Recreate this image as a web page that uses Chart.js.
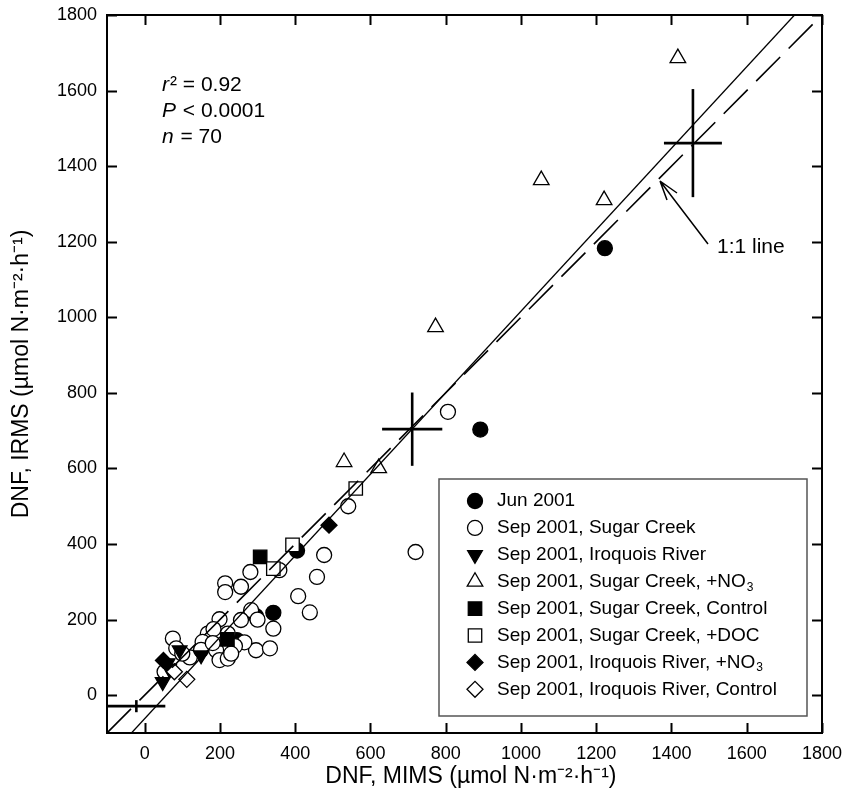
<!DOCTYPE html>
<html>
<head>
<meta charset="utf-8">
<script src="https://cdn.jsdelivr.net/npm/chart.js@4.4.0/dist/chart.umd.min.js"></script>
<style>
  html, body { margin: 0; padding: 0; background: #fff; }
  #wrap { width: 845px; height: 802px; }
</style>
</head>
<body>
<div id="wrap"><canvas id="dnfChart" width="845" height="802"></canvas></div>
<script>
// DNF measured by MIMS (x) and IRMS (y), µmol N m-2 h-1
var seriesLabels = [
  'Jun 2001',
  'Sep 2001, Sugar Creek',
  'Sep 2001, Iroquois River',
  'Sep 2001, Sugar Creek, +NO3',
  'Sep 2001, Sugar Creek, Control',
  'Sep 2001, Sugar Creek, +DOC',
  'Sep 2001, Iroquois River, +NO3',
  'Sep 2001, Iroquois River, Control'
];

var jun2001X = [1223, 892, 405, 342, 296, 245];
var jun2001Y = [1183, 703, 383, 218, 209, 146];

var sugarX = [806, 720, 541, 477, 458, 439, 408, 358, 281, 256, 214, 214, 283, 342, 296, 333, 199, 256, 221, 168,
              154, 190, 199, 221, 75, 84, 53, 183, 120, 100, 265, 240, 150, 300, 230, 181];
var sugarY = [750, 379, 500, 371, 313, 219, 262, 331, 326, 287, 296, 273, 225, 176, 119, 124, 201, 199, 163, 163,
              141, 119, 93, 97, 150, 124, 62, 175, 100, 110, 140, 130, 120, 200, 110, 138];

var iroquoisX = [48, 61, 93, 150, 65];
var iroquoisY = [35, 85, 119, 106, 70];

var sugarNo3X = [530, 622, 773, 1054, 1221, 1417];
var sugarNo3Y = [617, 601, 974, 1363, 1310, 1686];

var sugarControlX = [307, 220];
var sugarControlY = [366, 148];

var sugarDocX = [561, 342, 393];
var sugarDocY = [547, 335, 398];

var iroquoisNo3X = [490, 50];
var iroquoisNo3Y = [450, 92];

var iroquoisControlX = [79, 112];
var iroquoisControlY = [62, 42];

// fitted regression and 1:1 reference line
var regLineX = [-35, 1727];
var regLineY = [-100, 1800];
var oneToOneX = [-100, 1800];
var oneToOneY = [-100, 1800];

// crosshairs: centre and half-widths
var crossX = [-22, 711, 1457];
var crossY = [-29, 704, 1461];
var crossErrX = [77, 80, 77];
var crossErrY = [16, 97, 143];

var xTickValues = [0, 200, 400, 600, 800, 1000, 1200, 1400, 1600, 1800];
var yTickValues = [0, 200, 400, 600, 800, 1000, 1200, 1400, 1600, 1800];

var FONT = "'Liberation Sans', Arial, Helvetica, sans-serif";

function toPoints(xs, ys) {
  return xs.map(function(x, i) { return { x: x, y: ys[i] }; });
}

var markerStyles = [
  { pointStyle: 'circle', radius: 7.5, rotation: 0, fill: '#000' },
  { pointStyle: 'circle', radius: 7.5, rotation: 0, fill: '#fff' },
  { pointStyle: 'triangle', radius: 8.5, rotation: 180, fill: '#000' },
  { pointStyle: 'triangle', radius: 9, rotation: 0, fill: '#fff' },
  { pointStyle: 'rect', radius: 9.5, rotation: 0, fill: '#000' },
  { pointStyle: 'rect', radius: 9.5, rotation: 0, fill: '#fff' },
  { pointStyle: 'rectRot', radius: 8, rotation: 0, fill: '#000' },
  { pointStyle: 'rectRot', radius: 8, rotation: 0, fill: '#fff' }
];

var seriesData = [
  toPoints(jun2001X, jun2001Y),
  toPoints(sugarX, sugarY),
  toPoints(iroquoisX, iroquoisY),
  toPoints(sugarNo3X, sugarNo3Y),
  toPoints(sugarControlX, sugarControlY),
  toPoints(sugarDocX, sugarDocY),
  toPoints(iroquoisNo3X, iroquoisNo3Y),
  toPoints(iroquoisControlX, iroquoisControlY)
];

var datasets = [];

// lines first so they sit on top of the markers
datasets.push({
  label: 'regression', data: toPoints(regLineX, regLineY), showLine: true,
  borderColor: '#000', borderWidth: 1.3, pointRadius: 0, fill: false
});
datasets.push({
  label: '1:1', data: toPoints(oneToOneX, oneToOneY), showLine: true,
  borderColor: '#000', borderWidth: 1.6, borderDash: [34, 12], pointRadius: 0, fill: false
});
crossX.forEach(function(cx, i) {
  var cy = crossY[i];
  datasets.push({
    label: 'crossH' + i,
    data: [{ x: cx - crossErrX[i], y: cy }, { x: cx + crossErrX[i], y: cy }],
    showLine: true, borderColor: '#000', borderWidth: 2.6, pointRadius: 0, fill: false
  });
  datasets.push({
    label: 'crossV' + i,
    data: [{ x: cx, y: cy - crossErrY[i] }, { x: cx, y: cy + crossErrY[i] }],
    showLine: true, borderColor: '#000', borderWidth: 2.6, pointRadius: 0, fill: false
  });
});

for (var s = seriesData.length - 1; s >= 0; s--) {
  var m = markerStyles[s];
  datasets.push({
    label: seriesLabels[s],
    data: seriesData[s],
    pointStyle: m.pointStyle,
    pointRadius: m.radius,
    pointRotation: m.rotation,
    pointBackgroundColor: m.fill,
    pointBorderColor: '#000',
    pointBorderWidth: 1.3,
    showLine: false
  });
}

// text with a subscript 3 after NO
function drawLabel(ctx, text, x, y, size) {
  var parts = text.split('NO3');
  ctx.font = size + 'px ' + FONT;
  ctx.fillText(parts[0] + (parts.length > 1 ? 'NO' : ''), x, y);
  if (parts.length > 1) {
    var w = ctx.measureText(parts[0] + 'NO').width;
    ctx.font = Math.round(size * 0.62) + 'px ' + FONT;
    ctx.fillText('3', x + w + 1, y + size * 0.3);
  }
}

var framePlugin = {
  id: 'framePlugin',
  afterDraw: function(chart) {
    var ctx = chart.ctx;
    var a = chart.chartArea;
    var xs = chart.scales.x, ys = chart.scales.y;
    ctx.save();
    ctx.strokeStyle = '#000';
    ctx.lineWidth = 2;
    ctx.strokeRect(a.left, a.top, a.right - a.left, a.bottom - a.top);

    // inward tick marks on all four sides
    var tl = 10;
    ctx.beginPath();
    xTickValues.forEach(function(v) {
      var px = Math.round(xs.getPixelForValue(v)) + 0.5;
      ctx.moveTo(px, a.bottom); ctx.lineTo(px, a.bottom - tl);
      ctx.moveTo(px, a.top); ctx.lineTo(px, a.top + tl);
    });
    yTickValues.forEach(function(v) {
      var py = Math.round(ys.getPixelForValue(v)) + 0.5;
      ctx.moveTo(a.left, py); ctx.lineTo(a.left + tl, py);
      ctx.moveTo(a.right, py); ctx.lineTo(a.right - tl, py);
    });
    ctx.stroke();

    // statistics text
    ctx.fillStyle = '#000';
    ctx.textBaseline = 'alphabetic';
    ctx.textAlign = 'left';
    var sx = a.left + 55;
    var lines = [['r', '\u00B2 = 0.92'], ['P', ' < 0.0001'], ['n', ' = 70']];
    lines.forEach(function(l, i) {
      var by = a.top + 76 + i * 26;
      ctx.font = 'italic 21px ' + FONT;
      ctx.fillText(l[0], sx, by);
      var w = ctx.measureText(l[0]).width;
      ctx.font = '21px ' + FONT;
      ctx.fillText(l[1], sx + w + 1, by);
    });

    // 1:1 line label and arrow
    ctx.font = '21px ' + FONT;
    ctx.fillText('1:1 line', 717, 253);
    ctx.lineWidth = 1.5;
    ctx.beginPath();
    ctx.moveTo(708, 244); ctx.lineTo(660, 181);
    ctx.moveTo(660, 181); ctx.lineTo(667, 200);
    ctx.moveTo(660, 181); ctx.lineTo(677, 193);
    ctx.stroke();

    // legend box
    var lx = 439, ly = 479, lw = 368, lh = 237;
    ctx.fillStyle = '#fff';
    ctx.fillRect(lx, ly, lw, lh);
    ctx.strokeStyle = '#555';
    ctx.lineWidth = 1.5;
    ctx.strokeRect(lx, ly, lw, lh);
    ctx.textBaseline = 'middle';
    seriesLabels.forEach(function(label, i) {
      var m = markerStyles[i];
      var ry = 501 + i * 26.9;
      ctx.fillStyle = m.fill;
      ctx.strokeStyle = '#000';
      ctx.lineWidth = 1.3;
      Chart.helpers.drawPoint(ctx, { pointStyle: m.pointStyle, radius: m.radius, rotation: m.rotation, borderWidth: 1.3 }, 475, ry);
      ctx.fillStyle = '#000';
      drawLabel(ctx, label, 497, ry, 19);
    });
    ctx.restore();
  }
};

function plainTick(value) { return String(value); }

var ctx = document.getElementById('dnfChart').getContext('2d');
var dnfChart = new Chart(ctx, {
  type: 'scatter',
  data: { datasets: datasets },
  options: {
    responsive: false,
    animation: false,
    layout: { padding: { top: 15, right: 23, left: 0, bottom: 0 } },
    plugins: { legend: { display: false }, tooltip: { enabled: false } },
    scales: {
      x: {
        type: 'linear', min: -100, max: 1800,
        afterBuildTicks: function(axis) { axis.ticks = xTickValues.map(function(v) { return { value: v }; }); },
        afterFit: function(axis) { axis.height = 69; axis.paddingLeft = 0; axis.paddingRight = 0; },
        grid: { display: false, drawTicks: false },
        border: { display: false },
        ticks: { color: '#000', padding: 10, maxRotation: 0, callback: plainTick, font: { family: FONT, size: 18 } },
        title: {
          display: true, color: '#000',
          text: '  DNF, MIMS (\u00B5mol N\u00B7m\u207B\u00B2\u00B7h\u207B\u00B9)',
          font: { family: FONT, size: 23 }, padding: { top: 0, bottom: 12 }
        }
      },
      y: {
        type: 'linear', min: -100, max: 1800,
        afterBuildTicks: function(axis) { axis.ticks = yTickValues.map(function(v) { return { value: v }; }); },
        afterFit: function(axis) { axis.width = 107; axis.paddingTop = 0; axis.paddingBottom = 0; },
        grid: { display: false, drawTicks: false },
        border: { display: false },
        ticks: { color: '#000', padding: 10, callback: plainTick, font: { family: FONT, size: 18 } },
        title: {
          display: true, color: '#000',
          text: 'DNF, IRMS (\u00B5mol N\u00B7m\u207B\u00B2\u00B7h\u207B\u00B9)',
          font: { family: FONT, size: 23 }, padding: { top: 8, bottom: 0 }
        }
      }
    }
  },
  plugins: [framePlugin]
});
</script>
</body>
</html>
